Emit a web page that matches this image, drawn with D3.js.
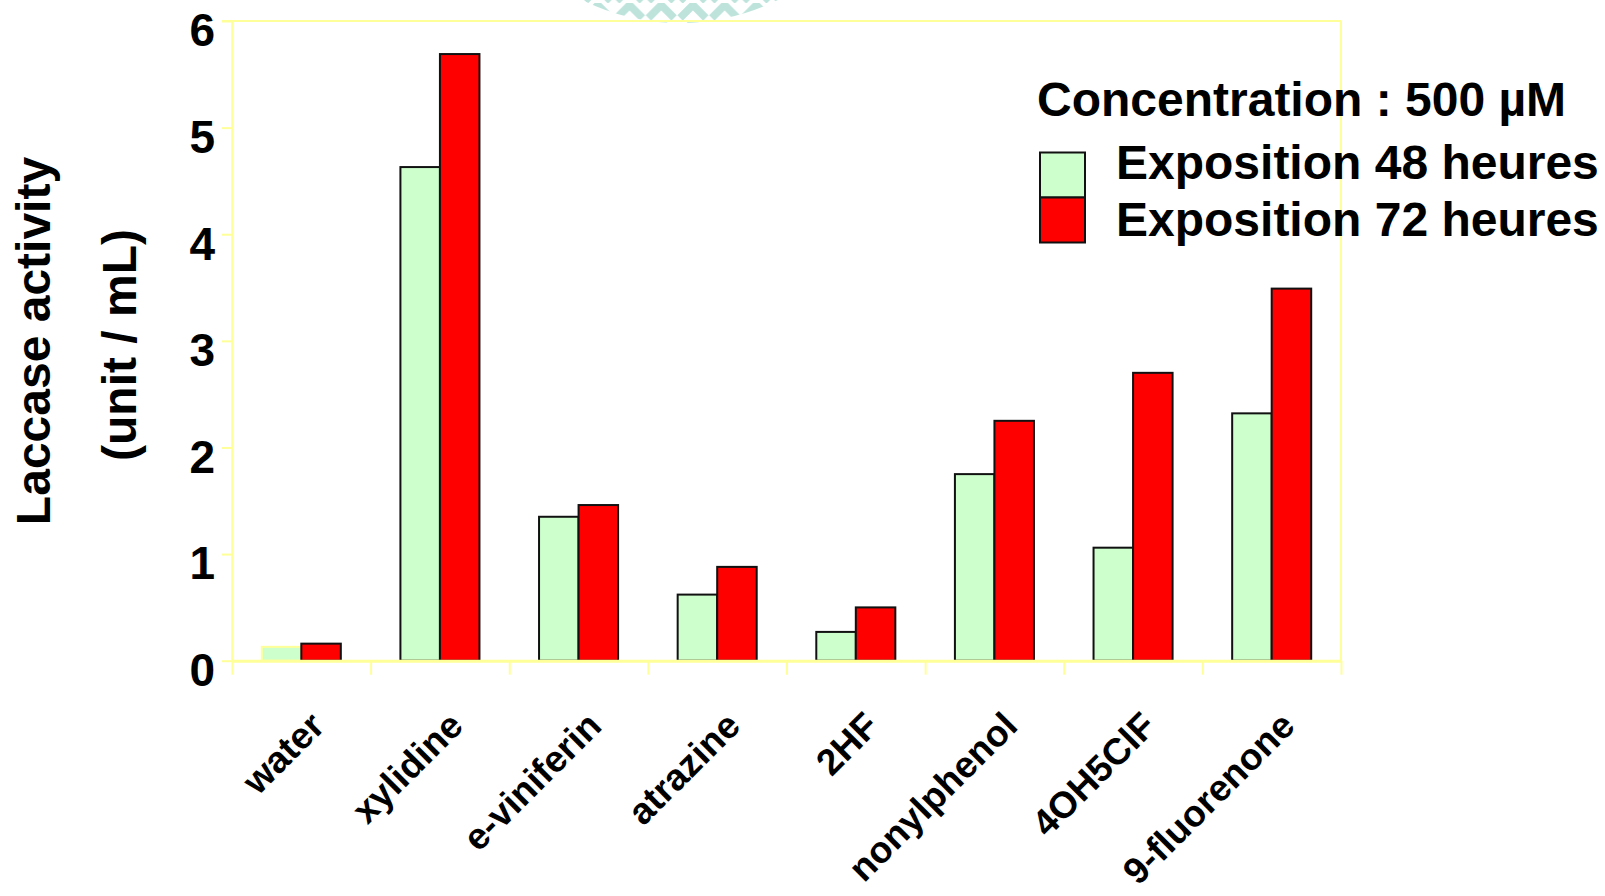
<!DOCTYPE html>
<html>
<head>
<meta charset="utf-8">
<script src="https://cdn.jsdelivr.net/npm/d3@7"></script>
<style>
  html, body { margin: 0; padding: 0; background: #ffffff; }
  svg { display: block; }
  text { font-family: "Liberation Sans", Arial, sans-serif; font-weight: bold; fill: #000; }
</style>
</head>
<body>
<svg id="chart" width="1605" height="896"></svg>
<script>
// Laccase activity after exposure to each compound (500 µM)
const categories = ["water", "xylidine", "e-viniferin", "atrazine", "2HF", "nonylphenol", "4OH5ClF", "9-fluorenone"];
const exposition48 = [0.13, 4.63, 1.35, 0.62, 0.27, 1.75, 1.06, 2.32];
const exposition72 = [0.16, 5.69, 1.46, 0.88, 0.50, 2.25, 2.70, 3.49];
const seriesKeys = ["h48", "h72"];
const seriesLabels = ["Exposition 48 heures", "Exposition 72 heures"];
const seriesColors = ["#CCFFCC", "#FF0000"];
const yTicks = [0, 1, 2, 3, 4, 5, 6];
const legendTitle = "Concentration : 500 µM";
const axisTitleLines = ["Laccase activity", "(unit / mL)"];

const axisColor = "#FFFF99";
const plot = { left: 232, right: 1341, top: 21, bottom: 660.7 };

const svg = d3.select("#chart");

// Decorative chevron emblem peeking in at the top of the slide
const defs = svg.append("defs");
const pat = defs.append("pattern")
  .attr("id", "chevrons")
  .attr("patternUnits", "userSpaceOnUse")
  .attr("x", 582).attr("y", 3)
  .attr("width", 31.7).attr("height", 17);
pat.append("path")
  .attr("d", "M3,15 L15.85,2 L28.7,15")
  .attr("fill", "none")
  .attr("stroke", "#BDE3DB")
  .attr("stroke-width", 7.5);
defs.append("clipPath").attr("id", "emblem")
  .append("circle").attr("cx", 680).attr("cy", -197).attr("r", 220);
svg.append("rect")
  .attr("x", 440).attr("y", 0).attr("width", 480).attr("height", 30)
  .attr("fill", "url(#chevrons)")
  .attr("clip-path", "url(#emblem)");

// Scales
const x = d3.scaleBand().domain(categories).range([plot.left, plot.right]).padding(0);
const xs = d3.scaleBand().domain(seriesKeys).range([0, x.bandwidth()]).paddingInner(0).paddingOuter(0.754);
const y = d3.scaleLinear().domain([0, 6]).range([plot.bottom, plot.top]);

const rows = categories.map((c, i) => ({ category: c, h48: exposition48[i], h72: exposition72[i] }));

// Bars
const groups = svg.append("g").selectAll("g")
  .data(rows).join("g")
  .attr("transform", d => `translate(${x(d.category)},0)`);

groups.selectAll("rect")
  .data((d, gi) => seriesKeys.map((k, si) => ({ key: k, si, gi, value: d[k] })))
  .join("rect")
  .attr("x", d => xs(d.key))
  .attr("y", d => y(d.value))
  .attr("width", xs.bandwidth())
  .attr("height", d => y(0) - y(d.value))
  .attr("fill", d => seriesColors[d.si])
  // the tiny water bar at 48 h carries the axis colour as its outline
  .attr("stroke", d => (d.gi === 0 && d.si === 0) ? axisColor : "#111")
  .attr("stroke-width", 2);

// Plot frame: top and right edges
svg.append("line")
  .attr("x1", plot.left - 10).attr("x2", plot.right)
  .attr("y1", plot.top).attr("y2", plot.top)
  .attr("stroke", axisColor).attr("stroke-width", 2);
svg.append("line")
  .attr("x1", plot.right).attr("x2", plot.right)
  .attr("y1", plot.top).attr("y2", plot.bottom)
  .attr("stroke", axisColor).attr("stroke-width", 2);

// Y axis
const yAxis = svg.append("g")
  .attr("transform", `translate(${plot.left},0)`)
  .call(d3.axisLeft(y).tickValues(yTicks).tickFormat(d3.format("d")).tickSize(10).tickSizeOuter(0).tickPadding(7));
yAxis.select(".domain").attr("stroke", axisColor).attr("stroke-width", 2.5);
yAxis.selectAll(".tick line").attr("stroke", axisColor).attr("stroke-width", 2);
yAxis.selectAll(".tick text")
  .attr("font-size", 46)
  .attr("font-family", "'Liberation Sans', Arial, sans-serif")
  .attr("font-weight", "bold")
  .attr("fill", "#000")
  .attr("dy", "0.54em");

// X axis: ticks on category boundaries
const xb = d3.scaleLinear().domain([0, categories.length]).range([plot.left, plot.right]);
const xAxis = svg.append("g")
  .attr("transform", `translate(0,${plot.bottom})`)
  .call(d3.axisBottom(xb).tickValues(d3.range(categories.length + 1)).tickFormat("").tickSize(14).tickSizeOuter(0));
xAxis.select(".domain").attr("stroke", axisColor).attr("stroke-width", 3);
xAxis.selectAll(".tick line").attr("stroke", axisColor).attr("stroke-width", 2);

// Category labels, slanted
svg.append("g").selectAll("text")
  .data(categories).join("text")
  .attr("transform", d => `translate(${x(d) + x.bandwidth() / 2 + 25},728) rotate(-45)`)
  .attr("text-anchor", "end")
  .attr("font-size", 37)
  .text(d => d);

// Y axis title on two lines
svg.append("g").selectAll("text")
  .data(axisTitleLines).join("text")
  .attr("transform", (d, i) => `translate(${i === 0 ? 50 : 136},${i === 0 ? 341 : 345}) rotate(-90)`)
  .attr("text-anchor", "middle")
  .attr("font-size", 48)
  .text(d => d);

// Legend
const legend = svg.append("g");
legend.append("text")
  .attr("x", 1037).attr("y", 116)
  .attr("font-size", 48)
  .text(legendTitle);
legend.selectAll("rect")
  .data(seriesLabels).join("rect")
  .attr("x", 1040)
  .attr("y", (d, i) => 152.5 + i * 45)
  .attr("width", 45).attr("height", 45)
  .attr("fill", (d, i) => seriesColors[i])
  .attr("stroke", "#111").attr("stroke-width", 2);
legend.selectAll("text.item")
  .data(seriesLabels).join("text")
  .attr("class", "item")
  .attr("x", 1116)
  .attr("y", (d, i) => 179 + i * 57)
  .attr("font-size", 48)
  .text(d => d);
</script>
</body>
</html>
